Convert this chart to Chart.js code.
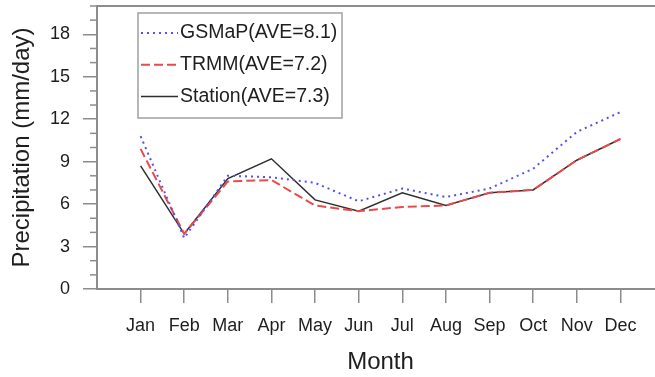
<!DOCTYPE html>
<html>
<head>
<meta charset="utf-8">
<script src="https://cdn.jsdelivr.net/npm/chart.js@4/dist/chart.umd.min.js"></script>
<style>
  html, body { margin: 0; padding: 0; background: #fff; overflow: hidden; }
  #wrap { width: 666px; height: 377px; }
</style>
</head>
<body>
<div id="wrap"><canvas id="c" width="666" height="377"></canvas></div>
<script>
// Monthly mean precipitation (mm/day)
const months = ['Jan', 'Feb', 'Mar', 'Apr', 'May', 'Jun', 'Jul', 'Aug', 'Sep', 'Oct', 'Nov', 'Dec'];
const gsmap   = [10.8, 3.6, 8.0, 7.9, 7.5, 6.2, 7.1, 6.5, 7.1, 8.5, 11.1, 12.5];
const trmm    = [9.9, 3.9, 7.6, 7.7, 5.9, 5.5, 5.8, 5.9, 6.8, 7.0, 9.1, 10.6];
const station = [8.7, 3.9, 7.8, 9.2, 6.3, 5.5, 6.8, 5.9, 6.8, 7.0, 9.1, 10.6];
const seriesLabels = ['GSMaP(AVE=8.1)', 'TRMM(AVE=7.2)', 'Station(AVE=7.3)'];
const yMajorTicks = [0, 3, 6, 9, 12, 15, 18];
const yMinorTicks = [1, 2, 4, 5, 7, 8, 10, 11, 13, 14, 16, 17, 19, 20];

const FONT = '"Liberation Sans", Arial, Helvetica, sans-serif';
const AXIS = '#8c8c8c';
const INK = '#1e1e1e';

const toPoints = arr => arr.map((v, i) => ({ x: i + 1, y: v }));

// minor ticks on the y axis and the upper frame line
const frameAndMinor = {
  id: 'frameAndMinor',
  afterDraw(chart) {
    const { ctx, chartArea: a, scales: { y } } = chart;
    ctx.save();
    ctx.strokeStyle = AXIS;
    ctx.lineWidth = 1.5;
    yMinorTicks.forEach(v => {
      const py = y.getPixelForValue(v);
      ctx.beginPath();
      ctx.moveTo(a.left - 7, py);
      ctx.lineTo(a.left, py);
      ctx.stroke();
    });
    ctx.lineWidth = 2;
    ctx.beginPath();
    ctx.moveTo(a.left - 1, a.top);
    ctx.lineTo(a.right, a.top);
    ctx.stroke();
    ctx.restore();
  }
};

// boxed legend inside the plot area
const boxLegend = {
  id: 'boxLegend',
  afterDraw(chart) {
    const { ctx, chartArea: a } = chart;
    const x0 = a.left + 41, y0 = a.top + 7, w = 204, h = 105;
    ctx.save();
    ctx.fillStyle = '#fff';
    ctx.fillRect(x0, y0, w, h);
    ctx.strokeStyle = '#a0a0a0';
    ctx.lineWidth = 1.5;
    ctx.strokeRect(x0, y0, w, h);
    ctx.font = '19.5px ' + FONT;
    ctx.textBaseline = 'middle';
    ctx.fillStyle = INK;
    chart.data.datasets.forEach((ds, i) => {
      const cy = y0 + 20 + i * 31.7;
      ctx.save();
      ctx.strokeStyle = ds.borderColor;
      ctx.lineWidth = ds.borderWidth;
      ctx.setLineDash(ds.borderDash || []);
      ctx.beginPath();
      ctx.moveTo(x0 + 3, cy);
      ctx.lineTo(x0 + 40, cy);
      ctx.stroke();
      ctx.restore();
      ctx.fillText(ds.label, x0 + 42, cy);
    });
    ctx.restore();
  }
};

new Chart(document.getElementById('c'), {
  type: 'line',
  data: {
    datasets: [
      { label: seriesLabels[0], data: toPoints(gsmap), borderColor: '#5252f0', borderWidth: 2, borderDash: [2, 4] },
      { label: seriesLabels[1], data: toPoints(trmm), borderColor: '#ec4a4a', borderWidth: 2, borderDash: [9, 4] },
      { label: seriesLabels[2], data: toPoints(station), borderColor: '#2e2e2e', borderWidth: 1.5, borderDash: [] }
    ]
  },
  options: {
    responsive: false,
    devicePixelRatio: 1,
    animation: false,
    layout: { padding: { left: 0, right: 2, top: 6, bottom: 0 } },
    elements: { point: { radius: 0, hoverRadius: 0 }, line: { tension: 0, fill: false } },
    plugins: { legend: { display: false }, tooltip: { enabled: false } },
    scales: {
      x: {
        type: 'linear',
        min: 0,
        max: 13,
        afterBuildTicks: s => { s.ticks = months.map((m, i) => ({ value: i + 1 })); },
        afterFit: s => { s.height = 88; s.paddingLeft = 0; s.paddingRight = 0; },
        ticks: {
          autoSkip: false,
          maxRotation: 0,
          padding: 12,
          color: INK,
          font: { family: FONT, size: 18 },
          callback: v => months[v - 1]
        },
        grid: { display: true, drawOnChartArea: false, drawTicks: true, tickLength: 14, color: AXIS, lineWidth: 1.5 },
        border: { display: true, color: AXIS, width: 2 },
        title: { display: true, text: 'Month', color: INK, font: { family: FONT, size: 24 }, padding: { top: 0, bottom: 0 } }
      },
      y: {
        min: 0,
        max: 20,
        afterBuildTicks: s => { s.ticks = yMajorTicks.map(v => ({ value: v })); },
        afterFit: s => { s.width = 97; s.paddingTop = 0; s.paddingBottom = 0; },
        ticks: { padding: 13, color: INK, font: { family: FONT, size: 18 } },
        grid: { display: true, drawOnChartArea: false, drawTicks: true, tickLength: 14, color: AXIS, lineWidth: 1.5 },
        border: { display: true, color: AXIS, width: 2 },
        title: { display: true, text: 'Precipitation (mm/day)', color: INK, font: { family: FONT, size: 24 }, padding: { top: 8, bottom: 0 } }
      }
    }
  },
  plugins: [frameAndMinor, boxLegend]
});
</script>
</body>
</html>
